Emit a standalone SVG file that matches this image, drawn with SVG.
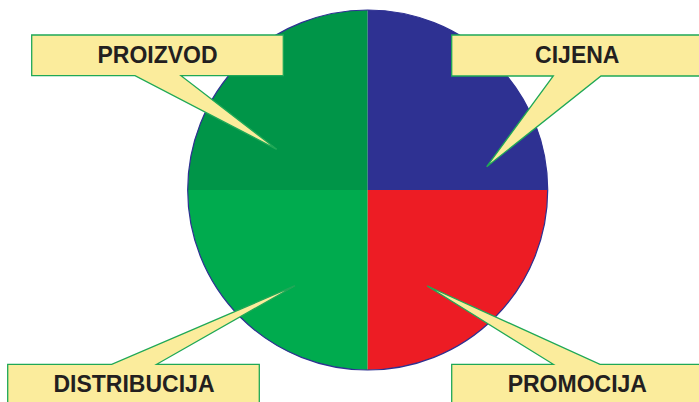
<svg xmlns="http://www.w3.org/2000/svg" width="699" height="402" viewBox="0 0 699 402">
<style>
.callout{fill:#fbec9c;stroke:#1fa857;stroke-width:1.3;stroke-linejoin:miter}
.lbl{font-family:"Liberation Sans",Arial,sans-serif;font-weight:bold;font-size:23px;fill:#231f20;text-anchor:middle}
.q{stroke:none}
</style>
<rect width="699" height="402" fill="#ffffff"/>
<g id="pie">
<path class="q" d="M367.7,190 V10 A180,180 0 0 0 187.7,190 Z" fill="#009548"/>
<path class="q" d="M367.7,190 V10 A180,180 0 0 1 547.7,190 Z" fill="#2e3192"/>
<path class="q" d="M367.7,190 H187.7 A180,180 0 0 0 367.7,370 Z" fill="#00ab4e"/>
<path class="q" d="M367.7,190 H547.7 A180,180 0 0 1 367.7,370 Z" fill="#ed1c24"/>
<circle cx="367.7" cy="190" r="180" fill="none" stroke="#2e3192" stroke-width="1.2"/>
</g>
<g id="proizvod">
<path class="callout" d="M31.7,35 H283.3 V75.7 H181 L276.7,149.3 L135,75.7 H31.7 Z"/>
<text class="lbl" x="157.5" y="62.7">PROIZVOD</text>
</g>
<g id="cijena">
<path class="callout" d="M451.7,35 H702 V76 H601 L486.7,166.7 L553.3,76 H451.7 Z"/>
<text class="lbl" x="577.3" y="62.7">CIJENA</text>
</g>
<g id="distribucija">
<path class="callout" d="M7.7,405 V364.3 H111.7 L295,285.7 L156.7,364.3 H259.3 V405 Z"/>
<text class="lbl" x="134" y="391.7">DISTRIBUCIJA</text>
</g>
<g id="promocija">
<path class="callout" d="M451.7,405 V364.3 H553.3 L427.3,286 L600,364.3 H702 V405 Z"/>
<text class="lbl" x="577.3" y="391.7">PROMOCIJA</text>
</g>
<g id="connectors"></g>
</svg>
